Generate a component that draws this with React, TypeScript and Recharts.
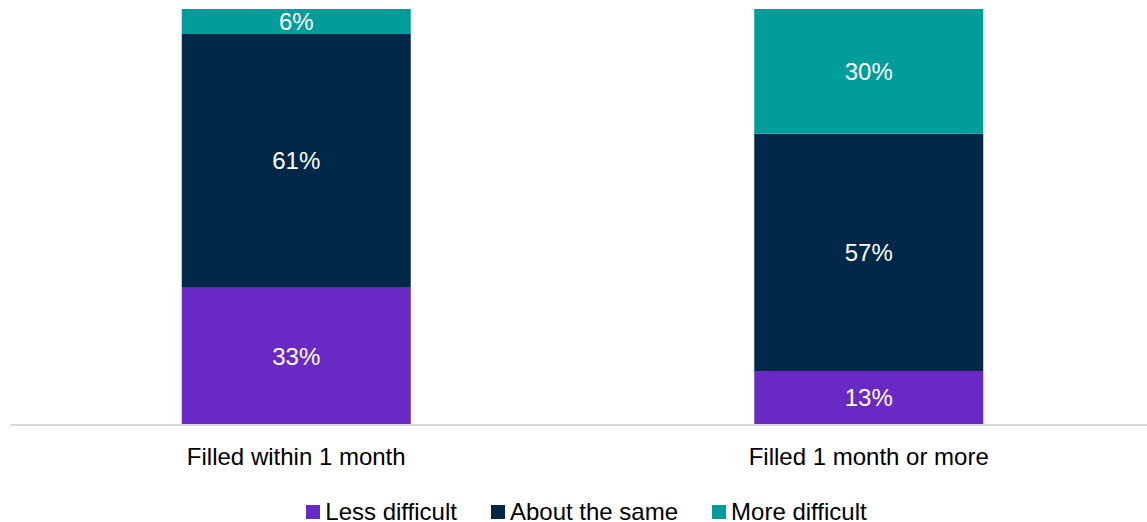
import { Bar, BarChart, LabelList, Legend, XAxis, YAxis } from "recharts";

const categories = ["Filled within 1 month", "Filled 1 month or more"];
const lessDifficult = [33, 13];
const aboutTheSame = [61, 57];
const moreDifficult = [6, 30];

const series = [
  { key: "less", name: "Less difficult", color: "#6929c4", values: lessDifficult },
  { key: "same", name: "About the same", color: "#012749", values: aboutTheSame },
  { key: "more", name: "More difficult", color: "#009d9a", values: moreDifficult },
];

const data = categories.map((name, i) => ({
  name,
  less: lessDifficult[i],
  same: aboutTheSame[i],
  more: moreDifficult[i],
}));

const font = "'Liberation Sans', Arial, sans-serif";

function LegendRow() {
  return (
    <div
      style={{
        display: "flex",
        justifyContent: "center",
        paddingTop: 18,
        paddingLeft: 8,
        fontFamily: font,
        fontSize: 24,
        lineHeight: "24px",
        color: "#000",
      }}
    >
      {series.map((s, i) => (
        <div
          key={s.key}
          style={{
            display: "flex",
            alignItems: "center",
            marginRight: i < series.length - 1 ? 34 : 0,
          }}
        >
          <span
            style={{
              display: "inline-block",
              width: 14,
              height: 14,
              background: s.color,
              marginRight: 5,
            }}
          />
          <span>{s.name}</span>
        </div>
      ))}
    </div>
  );
}

export default function App() {
  return (
    <div
      style={{
        position: "fixed",
        left: 0,
        top: 0,
        width: 1147,
        height: 522,
        overflow: "hidden",
        background: "#fff",
      }}
    >
      <BarChart
        width={1155}
        height={522}
        data={data}
        margin={{ top: 9, right: 0, left: 10, bottom: 0 }}
        barCategoryGap="30%"
      >
        <XAxis
          dataKey="name"
          height={57}
          tickLine={false}
          tickMargin={17}
          axisLine={{ stroke: "#d9d9d9", strokeWidth: 2 }}
          tick={{ fill: "#000", fontSize: 24, fontFamily: font }}
          interval={0}
        />
        <YAxis hide domain={[0, 100]} />
        <Legend verticalAlign="bottom" height={40} content={() => <LegendRow />} />
        {series.map((s) => (
          <Bar
            key={s.key}
            dataKey={s.key}
            name={s.name}
            stackId="a"
            fill={s.color}
            isAnimationActive={false}
          >
            <LabelList
              dataKey={s.key}
              position="center"
              fill="#fff"
              fontSize={24}
              fontFamily={font}
              formatter={(v: number) => `${v}%`}
            />
          </Bar>
        ))}
      </BarChart>
    </div>
  );
}
